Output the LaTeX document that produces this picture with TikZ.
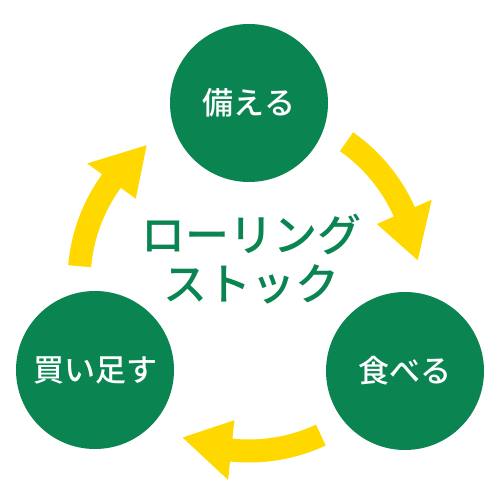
\documentclass[tikz,border=0pt]{standalone}
\usepackage{fontspec}
\newfontfamily\jp{Noto Sans CJK JP}[UprightFont={* Medium}, BoldFont={* Bold}]
\usetikzlibrary{calc}
\definecolor{grn}{RGB}{10,133,82}
\definecolor{ylw}{RGB}{255,216,0}
\begin{document}
\begin{tikzpicture}[x=1pt,y=1pt,
  circ/.style={circle, fill=grn, minimum size=158pt, inner sep=0pt, text=white,
    font=\jp\fontsize{31}{31}\selectfont},
  titletext/.style={text=grn, align=center, inner sep=0pt,
    font=\jp\fontsize{44}{49}\selectfont},
  cyc/.style={fill=ylw}]
\path[use as bounding box, fill=white] (0,0) rectangle (500,500);
\coordinate (c) at (249,219);
\node[circ] (sonae) at (249,397) {備える};
\node[circ] (taberu) at (405,129) {食べる};
\node[circ] (kaitasu) at (95,130) {買い足す};
\node[titletext] (title) at (251,241) {ローリング\\ストック};
\foreach \a in {55,-65,175} {
  \pgfmathsetmacro\b{\a-31}
  \pgfmathsetmacro\t{\a-48}
  \fill[cyc] ($(c)+(\a:181.5)$) arc[start angle=\a, end angle=\b, radius=181.5]
    -- ($(c)+(\b:200)$) -- ($(c)+(\t:170)$) -- ($(c)+(\b:140)$)
    -- ($(c)+(\b:158.5)$) arc[start angle=\b, end angle=\a, radius=158.5] -- cycle;
}
\end{tikzpicture}
\end{document}
